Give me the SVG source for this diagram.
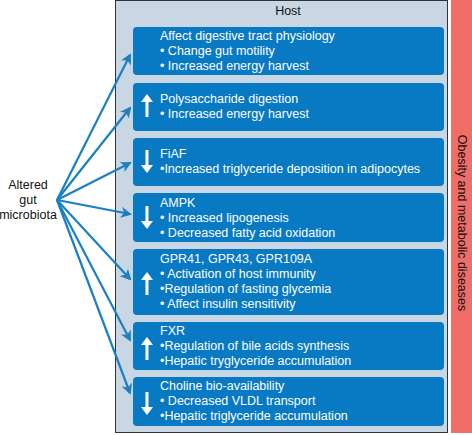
<svg xmlns="http://www.w3.org/2000/svg" width="472" height="435" viewBox="0 0 472 435">
<defs>
<style>
.t{font-family:"Liberation Sans",Arial,sans-serif;font-size:12.5px;fill:#fff}
.k{font-family:"Liberation Sans",Arial,sans-serif;font-size:12.5px;fill:#111}
.box{fill:#0879c3}
.conn{stroke:#1a7fc3;stroke-width:2.2;fill:none;marker-end:url(#ah)}
</style>
<marker id="ah" markerWidth="11" markerHeight="11" refX="9" refY="5.5" orient="auto" markerUnits="userSpaceOnUse">
<path d="M0,0 L11,5.5 L0,11 L3,5.5 Z" fill="#1a7fc3"/>
</marker>
<path id="up" d="M-6,8 L0,0 L6,8 L1.5,8 L1.5,23 L-1.5,23 L-1.5,8 Z" fill="#fff"/>
</defs>
<rect x="451" y="0" width="21" height="433" fill="#f16d68"/>
<text class="k" transform="translate(457.5,223) rotate(90)" text-anchor="middle">Obesity and metabolic diseases</text>
<g id="host">
<rect x="115.5" y="0.5" width="332" height="432" fill="#c9d7e4" stroke="#333" stroke-width="1"/>
<text class="k" x="288" y="15" text-anchor="middle">Host</text>
</g>
<g id="microbiota">
<text class="k" x="28" y="189" text-anchor="middle">Altered</text>
<text class="k" x="28" y="204" text-anchor="middle">gut</text>
<text class="k" x="28" y="219" text-anchor="middle">microbiota</text>
</g>
<g id="connectors">
<line class="conn" x1="57" y1="200" x2="130" y2="55"/>
<line class="conn" x1="57" y1="200" x2="130" y2="108"/>
<line class="conn" x1="57" y1="200" x2="130" y2="163"/>
<line class="conn" x1="57" y1="200" x2="130" y2="214"/>
<line class="conn" x1="57" y1="200" x2="130" y2="279"/>
<line class="conn" x1="57" y1="200" x2="130" y2="340"/>
<line class="conn" x1="57" y1="200" x2="130" y2="393"/>
</g>
<g id="n1">
<rect class="box" x="133" y="27" width="311" height="48" rx="4"/>
<text class="t" x="160" y="40">Affect digestive tract physiology</text>
<text class="t" x="160" y="55">• Change gut motility</text>
<text class="t" x="160" y="70">• Increased energy harvest</text>
</g>
<g id="n2">
<rect class="box" x="133" y="83" width="311" height="48" rx="4"/>
<use href="#up" transform="translate(147,94)"/>
<text class="t" x="160" y="103">Polysaccharide digestion</text>
<text class="t" x="160" y="118">• Increased energy harvest</text>
</g>
<g id="n3">
<rect class="box" x="133" y="138" width="311" height="48" rx="4"/>
<use href="#up" transform="translate(147,173) scale(1,-1)"/>
<text class="t" x="160" y="158">FiAF</text>
<text class="t" x="160" y="173">•Increased triglyceride deposition in adipocytes</text>
</g>
<g id="n4">
<rect class="box" x="133" y="193" width="311" height="49" rx="4"/>
<use href="#up" transform="translate(147,229) scale(1,-1)"/>
<text class="t" x="160" y="207">AMPK</text>
<text class="t" x="160" y="222">• Increased lipogenesis</text>
<text class="t" x="160" y="237">• Decreased fatty acid oxidation</text>
</g>
<g id="n5">
<rect class="box" x="133" y="249" width="311" height="66" rx="4"/>
<use href="#up" transform="translate(147,272)"/>
<text class="t" x="160" y="263">GPR41, GPR43, GPR109A</text>
<text class="t" x="160" y="278">• Activation of host immunity</text>
<text class="t" x="160" y="293">•Regulation of fasting glycemia</text>
<text class="t" x="160" y="308">• Affect insulin sensitivity</text>
</g>
<g id="n6">
<rect class="box" x="133" y="322" width="311" height="48" rx="4"/>
<use href="#up" transform="translate(147,337)"/>
<text class="t" x="160" y="335">FXR</text>
<text class="t" x="160" y="350">•Regulation of bile acids synthesis</text>
<text class="t" x="160" y="365">•Hepatic tryglyceride accumulation</text>
</g>
<g id="n7">
<rect class="box" x="133" y="377" width="311" height="49" rx="4"/>
<use href="#up" transform="translate(147,415) scale(1,-1)"/>
<text class="t" x="160" y="390">Choline bio-availability</text>
<text class="t" x="160" y="405">• Decreased VLDL transport</text>
<text class="t" x="160" y="420">•Hepatic triglyceride accumulation</text>
</g>
</svg>
